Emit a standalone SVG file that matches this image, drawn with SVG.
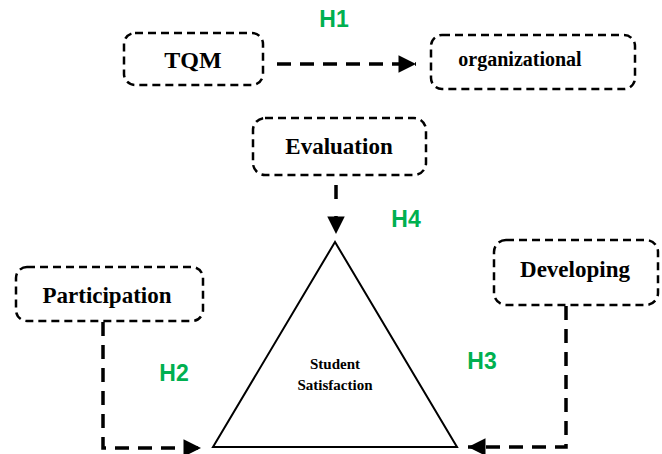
<svg xmlns="http://www.w3.org/2000/svg" width="662" height="454" viewBox="0 0 662 454">
<style>
.box{fill:none;stroke:#000;stroke-width:2.5;stroke-dasharray:8 5}
.lbl{font-family:"Liberation Serif","Times New Roman",serif;font-weight:bold;fill:#000;text-anchor:middle}
.h{font-family:"Liberation Sans",Arial,sans-serif;font-weight:bold;font-size:23px;fill:#00B050;text-anchor:middle}
.con{fill:none;stroke:#000;stroke-width:3.5;stroke-dasharray:14 9}
.tri{fill:#fff;stroke:#000;stroke-width:2}
</style>
<defs>
<marker id="ah" viewBox="0 0 10 10" refX="10" refY="5" markerWidth="6" markerHeight="5" markerUnits="strokeWidth" orient="auto">
<path d="M0,0 L10,5 L0,10 Z" fill="#000"/>
</marker>
</defs>
<rect width="662" height="454" fill="#fff"/>
<g id="connectors">
<path class="con" d="M277,64 H416" marker-end="url(#ah)"/>
<path class="con" d="M336,185 V234" marker-end="url(#ah)" style="stroke-dasharray:14 17"/>
<path class="con" d="M103,322 V448 H201" marker-end="url(#ah)"/>
<path class="con" d="M566,306 V447 H468" marker-end="url(#ah)"/>
</g>
<g id="hlabels">
<text class="h" x="334" y="27">H1</text>
<text class="h" x="406" y="227">H4</text>
<text class="h" x="174" y="381">H2</text>
<text class="h" x="482" y="369">H3</text>
</g>
<g id="tqm">
<rect class="box" x="124" y="33" width="139" height="52" rx="11"/>
<text class="lbl" x="193" y="68" font-size="24">TQM</text>
</g>
<g id="organizational">
<rect class="box" x="431" y="35" width="204" height="54" rx="11"/>
<text class="lbl" x="520" y="66" font-size="20">organizational</text>
</g>
<g id="evaluation">
<rect class="box" x="253" y="118" width="173" height="57" rx="12"/>
<text class="lbl" x="339" y="154" font-size="23">Evaluation</text>
</g>
<g id="participation">
<rect class="box" x="16" y="267" width="187" height="54" rx="11"/>
<text class="lbl" x="107" y="303" font-size="23">Participation</text>
</g>
<g id="developing">
<rect class="box" x="494" y="240" width="164" height="65" rx="12"/>
<text class="lbl" x="575" y="277" font-size="23">Developing</text>
</g>
<g id="student-satisfaction">
<polygon class="tri" points="335,242 213,447 457,447"/>
<text class="lbl" x="335" y="369" font-size="15">Student</text>
<text class="lbl" x="335" y="390" font-size="15">Satisfaction</text>
</g>
</svg>
